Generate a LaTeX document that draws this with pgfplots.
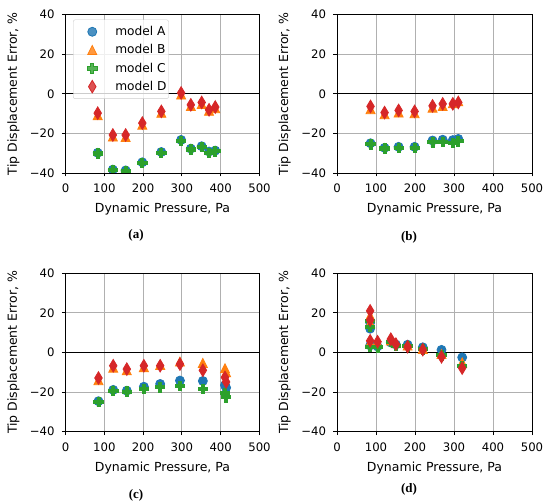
\documentclass[border=0pt]{standalone}
\usepackage{pgfplots}
\pgfplotsset{compat=1.18}
\usepackage{fontspec}
\setmainfont{DejaVu Sans}
\newfontfamily\tickfont{DejaVu Sans}[Scale=1.17]
\newfontfamily\lblfont{DejaVu Sans}[Scale=1.25]
\newfontfamily\legfont{DejaVu Sans}[Scale=1.22]
\newfontfamily\capfont{Liberation Serif}[Scale=1.3]
\definecolor{tabblue}{HTML}{1F77B4}
\definecolor{taborange}{HTML}{FF7F0E}
\definecolor{tabgreen}{HTML}{2CA02C}
\definecolor{tabred}{HTML}{D62728}
\definecolor{gridgray}{HTML}{B0B0B0}
\definecolor{leggray}{HTML}{CCCCCC}

\pgfdeclareplotmark{mtri}{%
  \pgfpathmoveto{\pgfqpoint{0pt}{\pgfplotmarksize}}%
  \pgfpathlineto{\pgfqpoint{-\pgfplotmarksize}{-\pgfplotmarksize}}%
  \pgfpathlineto{\pgfqpoint{\pgfplotmarksize}{-\pgfplotmarksize}}%
  \pgfpathclose\pgfusepathqfillstroke}
\pgfdeclareplotmark{mplus}{%
  \pgfpathmoveto{\pgfqpoint{-0.333\pgfplotmarksize}{-\pgfplotmarksize}}%
  \pgfpathlineto{\pgfqpoint{0.333\pgfplotmarksize}{-\pgfplotmarksize}}%
  \pgfpathlineto{\pgfqpoint{0.333\pgfplotmarksize}{-0.333\pgfplotmarksize}}%
  \pgfpathlineto{\pgfqpoint{\pgfplotmarksize}{-0.333\pgfplotmarksize}}%
  \pgfpathlineto{\pgfqpoint{\pgfplotmarksize}{0.333\pgfplotmarksize}}%
  \pgfpathlineto{\pgfqpoint{0.333\pgfplotmarksize}{0.333\pgfplotmarksize}}%
  \pgfpathlineto{\pgfqpoint{0.333\pgfplotmarksize}{\pgfplotmarksize}}%
  \pgfpathlineto{\pgfqpoint{-0.333\pgfplotmarksize}{\pgfplotmarksize}}%
  \pgfpathlineto{\pgfqpoint{-0.333\pgfplotmarksize}{0.333\pgfplotmarksize}}%
  \pgfpathlineto{\pgfqpoint{-\pgfplotmarksize}{0.333\pgfplotmarksize}}%
  \pgfpathlineto{\pgfqpoint{-\pgfplotmarksize}{-0.333\pgfplotmarksize}}%
  \pgfpathlineto{\pgfqpoint{-0.333\pgfplotmarksize}{-0.333\pgfplotmarksize}}%
  \pgfpathclose\pgfusepathqfillstroke}
\pgfdeclareplotmark{mdia}{%
  \pgfpathmoveto{\pgfqpoint{0pt}{\pgfplotmarksize}}%
  \pgfpathlineto{\pgfqpoint{0.6\pgfplotmarksize}{0pt}}%
  \pgfpathlineto{\pgfqpoint{0pt}{-\pgfplotmarksize}}%
  \pgfpathlineto{\pgfqpoint{-0.6\pgfplotmarksize}{0pt}}%
  \pgfpathclose\pgfusepathqfillstroke}

\pgfplotsset{
  limg/.style={legend image code/.code={%
    \pgfpathrectangle{\pgfqpoint{-17pt}{-6pt}}{\pgfqpoint{40pt}{12pt}}\pgfusepath{use as bounding box}%
    \draw[##1] plot coordinates {(0pt,0pt)};}},
  sA/.style={only marks, color=tabblue, mark=*, mark size=4.5pt, mark options={line width=0.8pt}, limg},
  sB/.style={only marks, color=taborange, mark=mtri, mark size=4.5pt, mark options={line width=0.8pt}, limg},
  sC/.style={only marks, color=tabgreen, mark=mplus, mark size=4.7pt, mark options={line width=0.8pt}, limg},
  sD/.style={only marks, color=tabred, mark=mdia, mark size=6.3pt, mark options={line width=0.8pt}, limg},
  common/.style={
    scale only axis, width=194pt, height=158.5pt,
    xmin=0, xmax=500, ymin=-40, ymax=40,
    xtick={0,100,200,300,400,500},
    ytick={-40,-20,0,20,40},
    yticklabels={−40,−20,0,20,40},
    xticklabels={0,100,200,300,400,500},
    xtick pos=bottom, ytick pos=left,
    tick align=outside, major tick length=3.5pt,
    every tick/.style={black, line width=0.8pt},
    axis line style={black, line width=0.8pt},
    grid=major, major grid style={gridgray, line width=0.8pt},
    tick label style={font=\tickfont},
    xticklabel style={yshift=-4pt},
    yticklabel style={xshift=-4pt},
    xlabel={Dynamic Pressure, Pa},
    ylabel={Tip Displacement Error, \%},
    every axis x label/.style={at={(axis description cs:0.5,-0.227)}, anchor=center, font=\lblfont},
    every axis y label/.style={at={(axis description cs:-0.268,0.5)}, rotate=90, anchor=center, font=\lblfont},
    clip marker paths=true,
  },
}

\begin{document}
\begin{tikzpicture}[x=1pt,y=1pt]
\useasboundingbox (0,0) rectangle (550,503);

% (a)
\begin{axis}[common, at={(65.5pt,330pt)}, anchor=south west,
  legend style={at={(axis description cs:0.039,0.968)}, anchor=north west,
    draw=leggray, rounded corners=2pt, fill=white, fill opacity=0.8, text opacity=1,
    font=\legfont, inner xsep=2pt, inner ysep=6pt,
    row sep=6.3pt, nodes={inner sep=0pt}},
  legend cell align=left]
\addplot[black, line width=1.1pt, forget plot] coordinates {(0,0) (500,0)};
\addplot[sA] coordinates {(83,-29.8) (122,-38.3) (155,-38.7) (198,-34.6) (247,-29.4) (298,-23.3) (323,-27.7) (351,-26.5) (370,-29.2) (386,-28.7)};
\addplot[sB] coordinates {(83,-10.8) (122,-21.6) (155,-21.8) (198,-15.6) (247,-9.6) (298,-0.4) (323,-6.2) (351,-5.2) (370,-8.6) (386,-7.3)};
\addplot[sC] coordinates {(83,-30.1) (122,-38.6) (155,-39.0) (198,-34.9) (247,-29.8) (298,-23.7) (323,-28.1) (351,-26.9) (370,-29.9) (386,-29.0)};
\addplot[sD] coordinates {(83,-9.8) (122,-20.8) (155,-20.8) (198,-14.8) (247,-8.9) (298,0.4) (323,-5.6) (351,-4.4) (370,-8.1) (386,-6.7)};
\legend{model A, model B, model C, model D}
\end{axis}

% (b)
\begin{axis}[common, at={(337pt,330pt)}, anchor=south west, width=195pt]
\addplot[black, line width=1.1pt, forget plot] coordinates {(0,0) (500,0)};
\addplot[sA] coordinates {(86,-25.0) (122,-27.3) (158,-26.8) (199,-26.8) (245,-23.6) (271,-23.2) (297,-23.4) (311,-22.8)};
\addplot[sB] coordinates {(86,-7.8) (122,-10.3) (158,-9.5) (199,-9.8) (245,-7.0) (271,-6.2) (297,-4.8) (311,-3.8)};
\addplot[sC] coordinates {(86,-25.5) (122,-27.6) (158,-27.2) (199,-27.2) (245,-24.5) (271,-24.2) (297,-24.8) (311,-24.0)};
\addplot[sD] coordinates {(86,-6.4) (122,-9.5) (158,-8.4) (199,-8.9) (245,-6.1) (271,-5.1) (297,-5.1) (311,-4.4)};
\end{axis}

% (c)
\begin{axis}[common, at={(65.5pt,71.3pt)}, anchor=south west]
\addplot[black, line width=1.1pt, forget plot] coordinates {(0,0) (500,0)};
\addplot[sA] coordinates {(85,-24.6) (123,-18.9) (158,-19.3) (202,-17.3) (244,-15.9) (295,-14.2) (354,-14.4) (411,-16.5) (414,-17.8)};
\addplot[sB] coordinates {(85,-14.0) (123,-7.7) (158,-9.0) (202,-7.4) (244,-6.3) (295,-4.6) (354,-5.3) (411,-8.0) (414,-10.0)};
\addplot[sC] coordinates {(85,-25.0) (123,-19.3) (158,-19.7) (202,-18.4) (244,-17.6) (295,-16.8) (354,-18.4) (411,-20.3) (414,-22.6)};
\addplot[sD] coordinates {(85,-12.9) (123,-6.7) (158,-8.4) (202,-6.7) (244,-6.7) (295,-5.9) (354,-9.0) (411,-12.6) (414,-14.9)};
\end{axis}

% (d)
\begin{axis}[common, at={(337pt,71.3pt)}, anchor=south west, width=195pt]
\addplot[black, line width=1.1pt, forget plot] coordinates {(0,0) (500,0)};
\addplot[sA] coordinates {(85,15.0) (85,12.0) (85,3.5) (104,3.0) (138,5.0) (151,4.0) (181,3.9) (220,2.6) (268,1.3) (321,-2.5)};
\addplot[sB] coordinates {(85,18.5) (85,15.0) (85,5.0) (104,5.0) (138,6.0) (151,4.6) (181,3.5) (220,1.8) (268,-0.8) (321,-5.0)};
\addplot[sC] coordinates {(85,16.0) (85,12.8) (85,2.8) (104,2.6) (138,5.4) (151,3.5) (181,3.1) (220,1.6) (268,-1.4) (321,-7.0)};
\addplot[sD] coordinates {(85,21.0) (85,16.3) (85,5.9) (104,5.4) (138,6.7) (151,4.2) (181,2.9) (220,1.4) (268,-2.2) (321,-7.9)};
\end{axis}

\node[font=\capfont\bfseries] at (136,268) {(a)};
\node[font=\capfont\bfseries] at (409,266) {(b)};
\node[font=\capfont\bfseries] at (136,8) {(c)};
\node[font=\capfont\bfseries] at (409,14) {(d)};
\end{tikzpicture}
\end{document}
